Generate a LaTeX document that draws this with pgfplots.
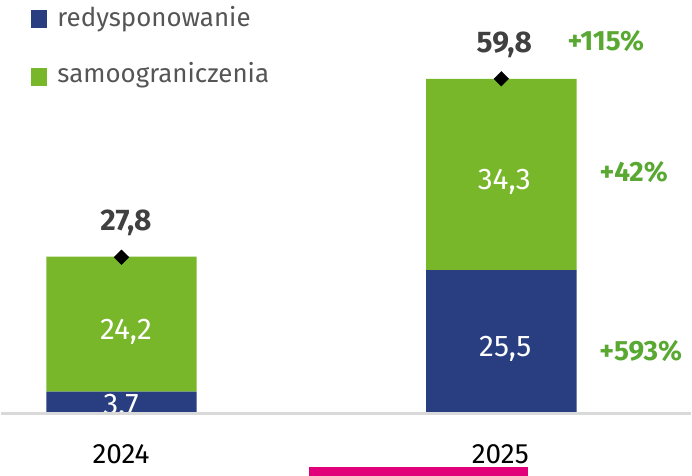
\documentclass[border=0pt]{standalone}
\usepackage{fontspec}
\setmainfont{Fira Sans}
\usepackage{pgfplots}
\pgfplotsset{compat=1.18}

\definecolor{barblue}{RGB}{40,62,128}
\definecolor{bargreen}{RGB}{120,182,42}
\definecolor{pctgreen}{RGB}{88,168,50}
\definecolor{txtdark}{RGB}{64,64,64}
\definecolor{txtgray}{RGB}{85,85,85}
\definecolor{pinkbar}{RGB}{226,0,122}
\definecolor{basegray}{RGB}{217,217,217}

\newcommand{\fs}[1]{\fontsize{#1}{#1}\selectfont}

\begin{document}
\begin{tikzpicture}[x=1pt,y=1pt]
\begin{axis}[
  at={(0,0)}, anchor=south west,
  width=692pt, height=478pt, scale only axis,
  hide axis, clip=false,
  xmin=-0.3159, xmax=1.498,
  ymin=-11.43, ymax=73.93,
  ybar stacked, bar width=151pt,
]
\addplot[fill=barblue, draw=none] coordinates {(0,3.7) (1,25.5)};
\addplot[fill=bargreen, draw=none] coordinates {(0,24.2) (1,34.3)};
\end{axis}
\begin{axis}[
  at={(0,0)}, anchor=south west,
  width=692pt, height=478pt, scale only axis,
  hide axis, clip=false,
  xmin=-0.3159, xmax=1.498,
  ymin=-11.43, ymax=73.93,
]
\addplot[only marks, mark=square*, mark size=5.2pt,
  mark options={rotate=45, fill=black, draw=black}]
  coordinates {(0,27.8) (1,59.8)};
\end{axis}

% baseline and highlight
\draw[basegray, line width=3pt] (0,62.5) -- (692,62.5);
\fill[pinkbar] (309,0) rectangle (529,9);

% legend
\fill[barblue] (30,450) rectangle (46,468);
\node[anchor=base west, inner sep=0pt, text=txtgray] at (56,451) {\fs{26}redysponowanie};
\fill[bargreen] (30,392) rectangle (46,410);
\node[anchor=base west, inner sep=0pt, text=txtgray] at (56,395) {\fs{26}samoograniczenia};

% totals
\node[anchor=base, inner sep=0pt, text=txtdark] at (125,246) {\fs{30}\bfseries 27,8};
\node[anchor=base, inner sep=0pt, text=txtdark] at (505,425) {\fs{30}\bfseries 59,8};

% inside values
\node[anchor=base, inner sep=0pt, text=white] at (125,137) {\fs{30}24,2};
\node[anchor=base, inner sep=0pt, text=white] at (505,288) {\fs{30}34,3};
\node[anchor=base, inner sep=0pt, text=white] at (506,120) {\fs{30}25,5};
\begin{scope}
  \clip (45,65) rectangle (196,100);
  \node[anchor=base, inner sep=0pt, text=white] at (120,62) {\fs{30}3.7};
\end{scope}

% changes
\node[anchor=base, inner sep=0pt, text=pctgreen] at (607,427) {\fs{28}\bfseries +115\%};
\node[anchor=base, inner sep=0pt, text=pctgreen] at (635,296) {\fs{28}\bfseries +42\%};
\node[anchor=base, inner sep=0pt, text=pctgreen] at (642,116) {\fs{28}\bfseries +593\%};

% categories
\node[anchor=base, inner sep=0pt, text=black] at (120,12) {\fs{28}2024};
\node[anchor=base, inner sep=0pt, text=black] at (501,12) {\fs{28}2025};

\path (0,0) rectangle (692,478);
\end{tikzpicture}
\end{document}
